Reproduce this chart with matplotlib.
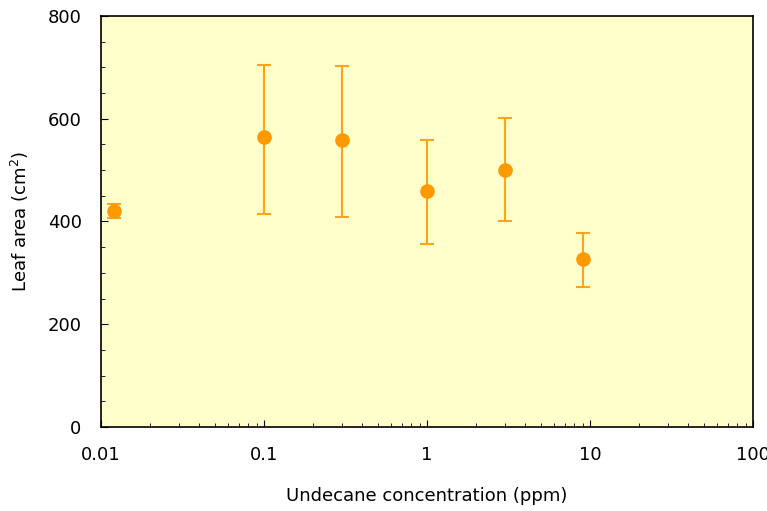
"""Leaf area vs undecane concentration, log x axis with error bars."""

import matplotlib
import matplotlib.pyplot as plt
from matplotlib.ticker import FixedLocator, FuncFormatter, LogLocator, NullFormatter

matplotlib.use("Agg")

concentration = [0.012, 0.1, 0.3, 1, 3, 9]
leaf_area = [420, 564, 558, 459, 501, 327]
err_upper = [434, 705, 702, 559, 601, 377]
err_lower = [406, 415, 409, 356, 401, 272]

yerr = [
    [m - lo for m, lo in zip(leaf_area, err_lower)],
    [hi - m for m, hi in zip(leaf_area, err_upper)],
]

fig = plt.figure(figsize=(7.67, 5.11), dpi=100)
ax = fig.add_axes([0.1317, 0.1644, 0.85, 0.8043])
ax.set_facecolor("#ffffcc")

ax.errorbar(
    concentration,
    leaf_area,
    yerr=yerr,
    fmt="o",
    color="#ff9900",
    ecolor="#ffa31a",
    markersize=9.5,
    elinewidth=1.5,
    capsize=5,
    capthick=1.5,
)

ax.set_xscale("log")
ax.set_xlim(0.01, 100)
ax.set_ylim(0, 800)

ax.xaxis.set_major_locator(LogLocator(base=10))
ax.xaxis.set_minor_locator(LogLocator(base=10, subs=range(2, 10)))
ax.xaxis.set_major_formatter(FuncFormatter(lambda v, _: f"{v:g}"))
ax.xaxis.set_minor_formatter(NullFormatter())
ax.yaxis.set_major_locator(FixedLocator([0, 200, 400, 600, 800]))
ax.yaxis.set_minor_locator(FixedLocator(range(0, 801, 50)))

ax.tick_params(which="both", direction="in", top=False, right=False, labelsize=13)
ax.tick_params(axis="x", pad=14)
ax.tick_params(axis="y", pad=14)
ax.tick_params(which="major", length=5)
ax.tick_params(which="minor", length=3)

ax.set_xlabel("Undecane concentration (ppm)", fontsize=13, labelpad=16)
ax.set_ylabel("Leaf area (cm$^2$)", fontsize=13, labelpad=12)

for spine in ax.spines.values():
    spine.set_linewidth(1.2)

fig.savefig("out.png", dpi=100)
plt.close(fig)
